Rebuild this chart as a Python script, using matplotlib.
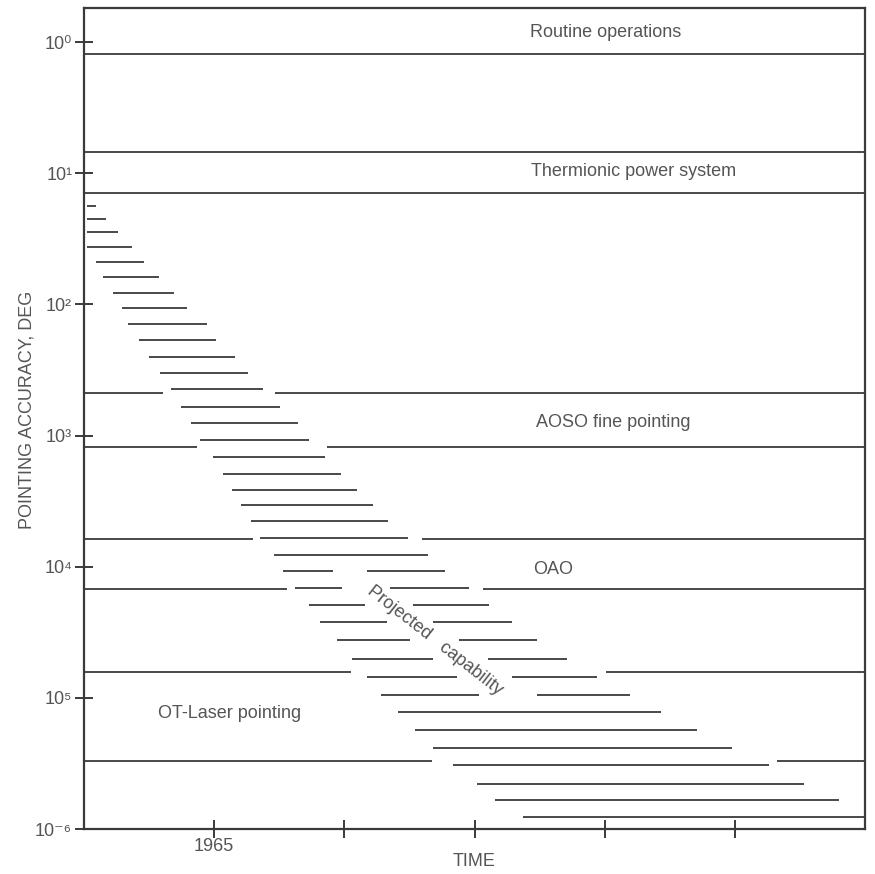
import matplotlib
matplotlib.use("Agg")
import matplotlib.pyplot as plt
import numpy as np

plt.rcParams['font.family'] = ['Liberation Sans', 'DejaVu Sans']

INK = '#3a3a3a'
TXT = '#555555'
FS = 13

# ---- axis definition ----
x_range = [1960, 1990]
y_exp_range = [-6, 0.26]           # log10 of pointing accuracy
x_ticks = [1965, 1970, 1975, 1980, 1985]
x_tick_labels = ['1965', '', '', '', '']
y_tick_exps = [0, -1, -2, -3, -4, -5, -6]
y_tick_labels = ['10⁰', '10¹', '10²', '10³', '10⁴', '10⁵', '10⁻⁶']

# ---- mission bands (log10 accuracy of the bounding lines) ----
band_names = ['Routine operations', 'Thermionic power system',
              'AOSO fine pointing', 'OAO', 'OT-Laser pointing']
band_label_x = [1977.13, 1977.17, 1977.36, 1977.25, 1962.84]
band_label_exp = [0.07, -0.99, -2.90, -4.02, -5.12]

# each boundary line: level, left piece end, right piece start (None = continuous)
line_level = [-0.091, -0.839, -1.151, -2.676, -3.088, -3.789, -4.170, -4.803, -5.481]
line_gap_start = [None, None, None, 1963.03, 1964.34, 1966.49, 1967.80, 1970.26, 1973.37]
line_gap_end = [None, None, None, 1967.34, 1969.34, 1972.99, 1975.33, 1980.05, 1986.62]

# ---- projected capability (short hatch dashes) ----
dash_level = [-1.250, -1.349, -1.449, -1.563, -1.677, -1.792, -1.914, -2.028,
              -2.150, -2.272, -2.401, -2.523, -2.645, -2.783, -2.905, -3.034,
              -3.164, -3.293, -3.415, -3.530, -3.652, -3.781, -3.911,
              -4.033, -4.033, -4.163, -4.163, -4.292, -4.292, -4.422, -4.422,
              -4.559, -4.559, -4.704, -4.704, -4.841, -4.841, -4.978, -4.978,
              -5.108, -5.245, -5.382, -5.512, -5.657, -5.779, -5.908]
dash_start = [1960.12, 1960.12, 1960.12, 1960.12, 1960.46, 1960.73, 1961.11, 1961.46,
              1961.69, 1962.11, 1962.50, 1962.92, 1963.34, 1963.73, 1964.11, 1964.46,
              1964.96, 1965.34, 1965.69, 1966.03, 1966.42, 1966.76, 1967.30,
              1967.65, 1970.87, 1968.11, 1971.76, 1968.64, 1972.64, 1969.07, 1973.41,
              1969.72, 1974.41, 1970.30, 1975.52, 1970.87, 1976.44, 1971.41, 1977.40,
              1972.06, 1972.72, 1973.41, 1974.18, 1975.10, 1975.79, 1976.87]
dash_end = [1960.46, 1960.85, 1961.31, 1961.84, 1962.31, 1962.88, 1963.46, 1963.96,
            1964.73, 1965.07, 1965.80, 1966.30, 1966.88, 1967.53, 1968.22, 1968.64,
            1969.26, 1969.87, 1970.49, 1971.10, 1971.68, 1972.45, 1973.22,
            1969.57, 1973.87, 1969.91, 1974.79, 1970.80, 1975.56, 1971.64, 1976.44,
            1972.52, 1977.40, 1973.41, 1978.56, 1974.33, 1979.71, 1975.17, 1980.98,
            1982.17, 1983.55, 1984.89, 1986.32, 1987.66, 1989.00, 1990.00]

fig = plt.figure(figsize=(8.75, 8.74), dpi=100, facecolor='white')
ax = fig.add_axes([84 / 875, 45 / 874, 781 / 875, 821 / 874])
ax.set_yscale('log')
ax.set_xlim(*x_range)
ax.set_ylim(10 ** y_exp_range[0], 10 ** y_exp_range[1])

# band boundary lines
for lvl, g0, g1 in zip(line_level, line_gap_start, line_gap_end):
    y = 10 ** lvl
    if g0 is None:
        ax.hlines(y, x_range[0], x_range[1], color=INK, lw=1.3)
    else:
        ax.hlines(y, x_range[0], g0, color=INK, lw=1.3)
        ax.hlines(y, g1, x_range[1], color=INK, lw=1.3)

# hatch dashes
ax.hlines(10 ** np.array(dash_level), dash_start, dash_end, color=INK, lw=1.3)

# band labels
for name, bx, be in zip(band_names, band_label_x, band_label_exp):
    ax.text(bx, 10 ** be, name, ha='left', va='center', fontsize=FS, color=TXT)

ax.text(1973.48, 10 ** -4.56, 'Projected   capability', rotation=-38,
        rotation_mode='anchor', ha='center', va='center', fontsize=FS, color=TXT)

# ticks
ax.set_xticks(x_ticks)
ax.set_xticklabels(x_tick_labels, fontsize=FS, color=TXT)
ax.set_yticks([10 ** e for e in y_tick_exps])
ax.set_yticklabels(y_tick_labels, fontsize=FS, color=TXT)
ax.yaxis.set_minor_locator(matplotlib.ticker.NullLocator())
ax.tick_params(axis='both', direction='inout', length=13, width=1.4, color=INK)
ax.tick_params(axis='x', pad=0)
ax.tick_params(axis='y', pad=2)

for s in ax.spines.values():
    s.set_color(INK)
    s.set_linewidth(1.6)

ax.set_xlabel('TIME', fontsize=FS, color=TXT)
ax.xaxis.set_label_coords(0.5, -0.029)
ax.set_ylabel('POINTING ACCURACY, DEG', fontsize=FS, color=TXT)
ax.yaxis.set_label_coords(-0.062, 0.51)

fig.savefig('out.png', dpi=100, facecolor='white')
